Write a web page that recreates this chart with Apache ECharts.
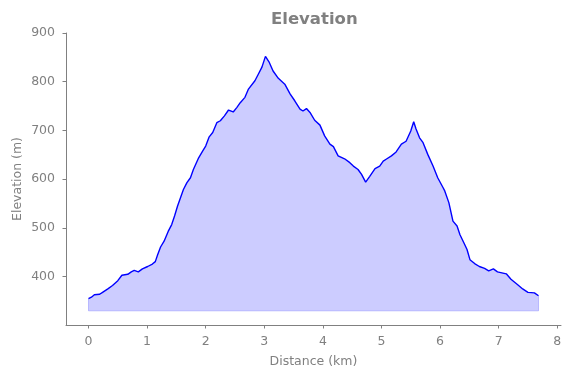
<!DOCTYPE html>
<html>
<head>
<meta charset="utf-8">
<script src="https://cdn.jsdelivr.net/npm/echarts@6/dist/echarts.min.js"></script>
<style>
html,body{margin:0;padding:0;background:#fff;}
#chart{width:572px;height:378px;}
</style>
</head>
<body>
<div id="chart"></div>
<script>
// distance along the route (km)
const distance = [
  0.00, 0.05, 0.10, 0.19, 0.24, 0.33, 0.41, 0.50, 0.57, 0.67, 0.73, 0.78, 0.85, 0.92,
  1.01, 1.09, 1.14, 1.18, 1.23, 1.29, 1.36, 1.42, 1.47, 1.52, 1.57, 1.62, 1.68, 1.74,
  1.79, 1.88, 1.95, 2.00, 2.06, 2.12, 2.19, 2.25, 2.32, 2.39, 2.47, 2.53, 2.59, 2.67,
  2.73, 2.84, 2.90, 2.96, 3.02, 3.08, 3.15, 3.24, 3.35, 3.44, 3.52, 3.61, 3.66, 3.72,
  3.78, 3.86, 3.95, 4.03, 4.12, 4.18, 4.26, 4.37, 4.46, 4.52, 4.60, 4.66, 4.73, 4.80,
  4.89, 4.97, 5.03, 5.08, 5.17, 5.25, 5.34, 5.42, 5.50, 5.55, 5.59, 5.65, 5.71, 5.79,
  5.88, 5.96, 6.05, 6.08, 6.15, 6.22, 6.29, 6.34, 6.42, 6.46, 6.51, 6.59, 6.67, 6.76,
  6.83, 6.91, 6.98, 7.13, 7.21, 7.32, 7.41, 7.50, 7.61, 7.68
]
// elevation (m)
const elevation = [
  355, 358, 363, 364, 368, 375, 382, 392, 403, 405, 410, 413, 410, 416,
  421, 426, 431, 445, 461, 473, 493, 507, 525, 545, 562, 579, 593, 603,
  620, 644, 658, 668, 687, 696, 716, 720, 730, 742, 738, 747, 757, 768,
  785, 802, 816, 830, 852, 841, 822, 807, 795, 775, 761, 744, 740, 745,
  737, 721, 711, 689, 672, 667, 648, 642, 634, 627, 620, 610, 594, 606,
  622, 627, 637, 641, 648, 656, 672, 678, 699, 718, 703, 685, 675, 651,
  627, 603, 583, 576, 552, 514, 504, 486, 466, 456, 435, 427, 421, 417,
  412, 416, 410, 406, 395, 384, 375, 368, 367, 361
]
const fillBase = 330
const xTicks = [0, 1, 2, 3, 4, 5, 6, 7, 8]
const yTicks = [400, 500, 600, 700, 800, 900]

const profile = distance.map((d, i) => [d, elevation[i]])
const last = distance.length - 1
const outline = [
  [distance[0], elevation[0]], [distance[0], fillBase],
  [distance[last], fillBase], [distance[last], elevation[last]]
]

const gray = '#808080'
const chart = echarts.init(document.getElementById('chart'))
chart.setOption({
  animation: false,
  textStyle: {fontFamily: 'DejaVu Sans'},
  title: {
    text: 'Elevation',
    left: 266,
    top: 6,
    textStyle: {fontSize: 16.5, fontWeight: 'bold', color: gray, fontFamily: 'DejaVu Sans'}
  },
  grid: {left: 66, right: 11, top: 33, bottom: 53, containLabel: false},
  xAxis: {
    type: 'value',
    min: -0.384,
    max: 8.064,
    name: 'Distance (km)',
    nameLocation: 'middle',
    nameGap: 30,
    nameTextStyle: {fontSize: 12.5, color: gray},
    splitLine: {show: false},
    axisLine: {onZero: false, lineStyle: {color: gray, width: 1}},
    axisTick: {length: 3.5, lineStyle: {color: gray}, customValues: xTicks},
    axisLabel: {fontSize: 12.5, color: gray, margin: 10, customValues: xTicks}
  },
  yAxis: {
    type: 'value',
    min: 301,
    max: 900,
    name: 'Elevation (m)',
    nameLocation: 'middle',
    nameGap: 42,
    nameMoveOverlap: false,
    nameTextStyle: {fontSize: 12.5, color: gray},
    splitLine: {show: false},
    axisLine: {show: true, onZero: false, lineStyle: {color: gray, width: 1}},
    axisTick: {show: true, length: 3.5, lineStyle: {color: gray}, customValues: yTicks},
    axisLabel: {fontSize: 12.5, color: gray, margin: 11, customValues: yTicks}
  },
  series: [
    {
      type: 'line',
      data: outline,
      symbol: 'none',
      silent: true,
      lineStyle: {color: 'rgba(0,0,255,0.2)', width: 1}
    },
    {
      type: 'line',
      data: profile,
      symbol: 'none',
      lineStyle: {color: '#0000ff', width: 1.4},
      areaStyle: {color: 'rgba(0,0,255,0.2)', origin: fillBase, opacity: 1}
    }
  ]
})
</script>
</body>
</html>
